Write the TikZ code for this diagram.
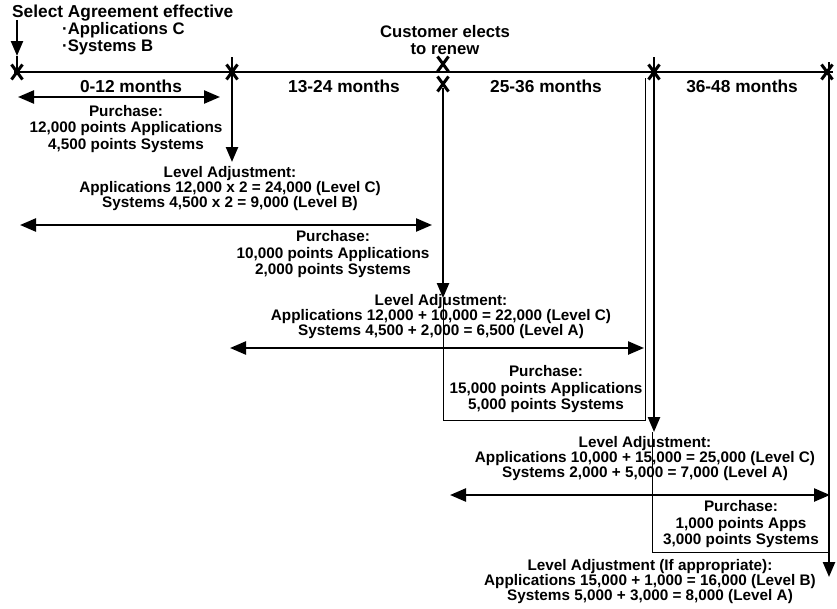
\documentclass[tikz,border=0pt]{standalone}
\usepackage{fontspec}
\setmainfont{Liberation Sans}
\usetikzlibrary{arrows.meta}

\begin{document}
\begin{tikzpicture}[x=1pt,y=-1pt,
  head/.style={font=\bfseries\fontsize{16.7}{17}\selectfont, inner sep=0pt},
  bighead/.style={font=\bfseries\fontsize{17.3}{17}\selectfont, inner sep=0pt},
  purch/.style={font=\bfseries\fontsize{15.3}{16.5}\selectfont, align=center, inner sep=0pt},
  adjust/.style={font=\bfseries\fontsize{15.3}{15}\selectfont, align=center, inner sep=0pt},
  axis/.style={line width=2pt},
  drop/.style={line width=2.4pt, -{Triangle[length=15pt,width=12pt]}},
  span/.style={line width=2.4pt, {Triangle[length=16pt,width=13pt]}-{Triangle[length=16pt,width=13pt]}},
  frame/.style={line width=0.8pt},
  crossmark/.pic={\draw[line width=3pt] (-5.5,-7.5) -- (5.5,7.5) (5.5,-7.5) -- (-5.5,7.5);}
]
\useasboundingbox (0,0) rectangle (837,608);

% milestones on the time axis
\coordinate (x0) at (17,72);
\coordinate (x1) at (232,72);
\coordinate (x2) at (443,72);
\coordinate (x3) at (654,72);
\coordinate (x4) at (829,72);
\coordinate (axL) at (14,72);
\coordinate (axR) at (833,72);

% headings
\node[bighead, anchor=west] (sel) at (12,13) {Select Agreement effective};
\node[head, anchor=west, align=left] (opts) at (62,39) {·Applications C\\·Systems B};
\node[head, align=center] (renew) at (445,40) {Customer elects\\to renew};

\node[bighead] (y1) at (131,86) {0-12 months};
\node[bighead] (y2) at (344,86) {13-24 months};
\node[bighead] (y3) at (546,86) {25-36 months};
\node[bighead] (y4) at (742,86) {36-48 months};

% purchases and level adjustments
\node[purch] (p1) at (126,129) {Purchase:\\12,000 points Applications\\4,500 points Systems};
\node[adjust] (a1) at (230,188.5) {Level Adjustment:\\Applications 12,000 x 2 = 24,000 (Level C)\\Systems 4,500 x 2 = 9,000 (Level B)};
\node[purch] (p2) at (333,254.5) {Purchase:\\10,000 points Applications\\2,000 points Systems};
\node[adjust] (a2) at (441,316.5) {Level Adjustment:\\Applications 12,000 + 10,000 = 22,000 (Level C)\\Systems 4,500 + 2,000 = 6,500 (Level A)};
\node[purch] (p3) at (546,389.5) {Purchase:\\15,000 points Applications\\5,000 points Systems};
\node[adjust] (a3) at (645,458.5) {Level Adjustment:\\Applications 10,000 + 15,000 = 25,000 (Level C)\\Systems 2,000 + 5,000 = 7,000 (Level A)};
\node[purch] (p4) at (741,524.5) {Purchase:\\1,000 points Apps\\3,000 points Systems};
\node[adjust] (a4) at (650,581.5) {Level Adjustment (If appropriate):\\Applications 15,000 + 1,000 = 16,000 (Level B)\\Systems 5,000 + 3,000 = 8,000 (Level A)};

% arrow end points
\coordinate (s0) at (17,20);
\coordinate (t0) at (17,56);
\coordinate (s1) at (232,57);
\coordinate (t1) at (232,162);
\coordinate (s2) at (443,88);
\coordinate (t2) at (443,298);
\coordinate (s3) at (654,57);
\coordinate (t3) at (654,432);
\coordinate (s4) at (829,62);
\coordinate (t4) at (829,577);

\coordinate (r1a) at (18,97);   \coordinate (r1b) at (220,97);
\coordinate (r2a) at (20,225);  \coordinate (r2b) at (432,225);
\coordinate (r3a) at (230,348); \coordinate (r3b) at (644,348);
\coordinate (r4a) at (450,495); \coordinate (r4b) at (830,495);

% purchase frames
\coordinate (b1a) at (443,420);
\coordinate (b1b) at (645,420);
\coordinate (b1c) at (645,78);
\coordinate (b2a) at (652,432);
\coordinate (b2b) at (652,552);
\coordinate (b2c) at (829,552);

\draw[frame] (t2) -- (b1a) -- (b1b) -- (b1c);
\draw[frame] (b2a) -- (b2b) -- (b2c);

% time axis
\draw[axis] (axL) -- (axR);

% drops from the axis to each adjustment
\draw[drop] (s0) -- (t0);
\draw[line width=2.4pt] (t0) -- (x0);
\draw[drop] (s1) -- (t1);
\draw[drop] (s2) -- (t2);
\draw[drop] (s3) -- (t3);
\draw[drop] (s4) -- (t4);

% coverage spans
\draw[span] (r1a) -- (r1b);
\draw[span] (r2a) -- (r2b);
\draw[span] (r3a) -- (r3b);
\draw[span] (r4a) -- (r4b);

% milestone crosses
\pic at (x0) {crossmark};
\pic at (x1) {crossmark};
\pic at (443,64) {crossmark};
\pic at (443,84) {crossmark};
\pic at (x3) {crossmark};
\pic at (827,72) {crossmark};
\end{tikzpicture}
\end{document}
